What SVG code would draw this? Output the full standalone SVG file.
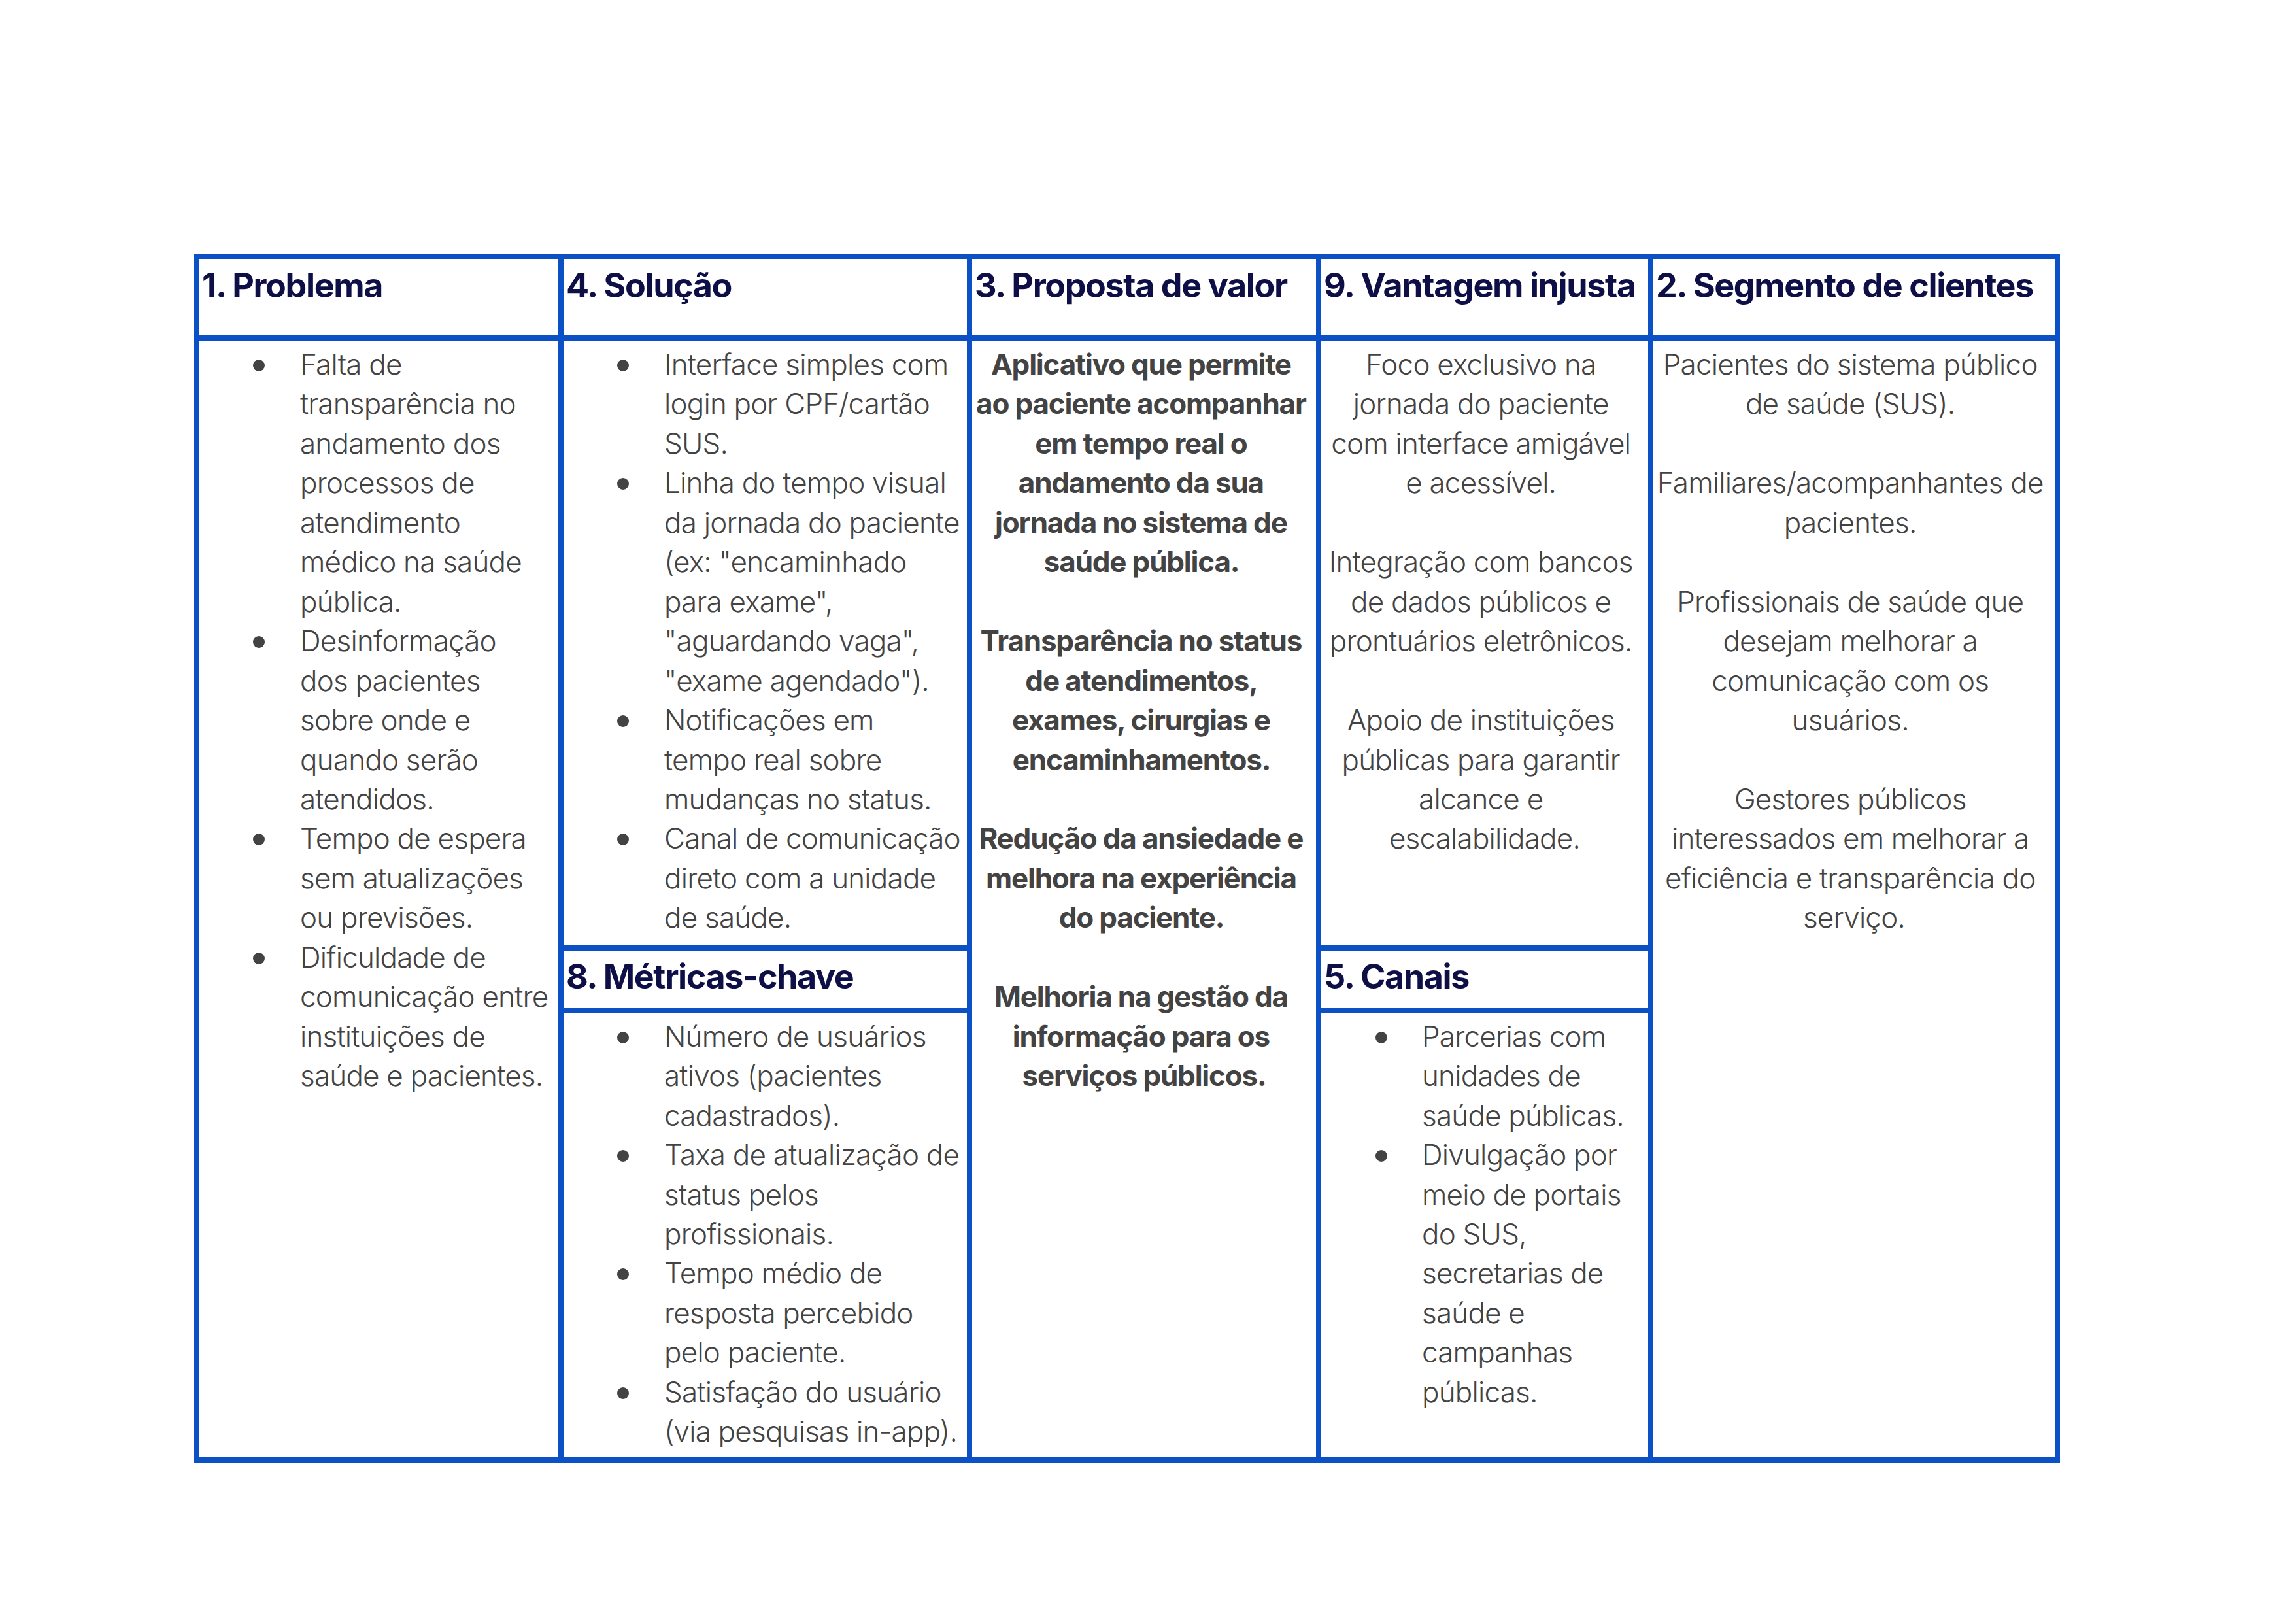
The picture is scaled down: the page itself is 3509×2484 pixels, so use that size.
<svg xmlns="http://www.w3.org/2000/svg" width="3509" height="2484" viewBox="0 0 3509 2484">
<style>
.grid{stroke:#0b51c5;stroke-width:8;fill:none;stroke-linecap:square}
.hd{font-family:Inter,"Liberation Sans",sans-serif;font-weight:700;font-size:52px;fill:#0f0f47;letter-spacing:-1.4px}
.bd{font-family:Inter,"Liberation Sans",sans-serif;font-weight:300;font-size:44px;fill:#434343;letter-spacing:-0.8px}
.bb{font-family:Inter,"Liberation Sans",sans-serif;font-weight:700;font-size:44px;fill:#434343;letter-spacing:-1.2px}
.c{text-anchor:middle}
.bl{fill:#434343}
</style>
<rect width="3509" height="2484" fill="#ffffff"/>
<g id="connectors">
<rect class="grid" x="300" y="392" width="2847" height="1841"/>
<line class="grid" x1="300" y1="517" x2="3147" y2="517"/>
<line class="grid" x1="858" y1="392" x2="858" y2="2233"/>
<line class="grid" x1="1483" y1="392" x2="1483" y2="2233"/>
<line class="grid" x1="2017" y1="392" x2="2017" y2="2233"/>
<line class="grid" x1="2525" y1="392" x2="2525" y2="2233"/>
<line class="grid" x1="858" y1="1450" x2="1483" y2="1450"/>
<line class="grid" x1="858" y1="1546" x2="1483" y2="1546"/>
<line class="grid" x1="2017" y1="1450" x2="2525" y2="1450"/>
<line class="grid" x1="2017" y1="1546" x2="2525" y2="1546"/>
</g>
<g id="problema">
<text class="hd" x="309" y="455">1. Problema</text>
<circle class="bl" cx="396" cy="559" r="9"/>
<circle class="bl" cx="396" cy="982" r="9"/>
<circle class="bl" cx="396" cy="1284" r="9"/>
<circle class="bl" cx="396" cy="1466" r="9"/>
<text class="bd" x="459" y="573">
<tspan x="459" y="573">Falta de</tspan>
<tspan x="459" dy="60.45">transparência no</tspan>
<tspan x="459" dy="60.45">andamento dos</tspan>
<tspan x="459" dy="60.45">processos de</tspan>
<tspan x="459" dy="60.45">atendimento</tspan>
<tspan x="459" dy="60.45">médico na saúde</tspan>
<tspan x="459" dy="60.45">pública.</tspan>
<tspan x="459" dy="60.45">Desinformação</tspan>
<tspan x="459" dy="60.45">dos pacientes</tspan>
<tspan x="459" dy="60.45">sobre onde e</tspan>
<tspan x="459" dy="60.45">quando serão</tspan>
<tspan x="459" dy="60.45">atendidos.</tspan>
<tspan x="459" dy="60.45">Tempo de espera</tspan>
<tspan x="459" dy="60.45">sem atualizações</tspan>
<tspan x="459" dy="60.45">ou previsões.</tspan>
<tspan x="459" dy="60.45">Dificuldade de</tspan>
<tspan x="459" dy="60.45">comunicação entre</tspan>
<tspan x="459" dy="60.45">instituições de</tspan>
<tspan x="459" dy="60.45">saúde e pacientes.</tspan>
</text>
</g>
<g id="solucao">
<text class="hd" x="866" y="455">4. Solução</text>
<circle class="bl" cx="953" cy="559" r="9"/>
<circle class="bl" cx="953" cy="740" r="9"/>
<circle class="bl" cx="953" cy="1103" r="9"/>
<circle class="bl" cx="953" cy="1284" r="9"/>
<text class="bd">
<tspan x="1016" y="573">Interface simples com</tspan>
<tspan x="1016" dy="60.45">login por CPF/cartão</tspan>
<tspan x="1016" dy="60.45">SUS.</tspan>
<tspan x="1016" dy="60.45">Linha do tempo visual</tspan>
<tspan x="1016" dy="60.45">da jornada do paciente</tspan>
<tspan x="1016" dy="60.45">(ex: "encaminhado</tspan>
<tspan x="1016" dy="60.45">para exame",</tspan>
<tspan x="1016" dy="60.45">"aguardando vaga",</tspan>
<tspan x="1016" dy="60.45">"exame agendado").</tspan>
<tspan x="1016" dy="60.45">Notificações em</tspan>
<tspan x="1016" dy="60.45">tempo real sobre</tspan>
<tspan x="1016" dy="60.45">mudanças no status.</tspan>
<tspan x="1016" dy="60.45">Canal de comunicação</tspan>
<tspan x="1016" dy="60.45">direto com a unidade</tspan>
<tspan x="1016" dy="60.45">de saúde.</tspan>
</text>
</g>
<g id="metricas">
<text class="hd" x="866" y="1512">8. Métricas-chave</text>
<circle class="bl" cx="953" cy="1587" r="9"/>
<circle class="bl" cx="953" cy="1768" r="9"/>
<circle class="bl" cx="953" cy="1949" r="9"/>
<circle class="bl" cx="953" cy="2131" r="9"/>
<text class="bd">
<tspan x="1016" y="1600.7">Número de usuários</tspan>
<tspan x="1016" dy="60.45">ativos (pacientes</tspan>
<tspan x="1016" dy="60.45">cadastrados).</tspan>
<tspan x="1016" dy="60.45">Taxa de atualização de</tspan>
<tspan x="1016" dy="60.45">status pelos</tspan>
<tspan x="1016" dy="60.45">profissionais.</tspan>
<tspan x="1016" dy="60.45">Tempo médio de</tspan>
<tspan x="1016" dy="60.45">resposta percebido</tspan>
<tspan x="1016" dy="60.45">pelo paciente.</tspan>
<tspan x="1016" dy="60.45">Satisfação do usuário</tspan>
<tspan x="1016" dy="60.45">(via pesquisas in-app).</tspan>
</text>
</g>
<g id="proposta">
<text class="hd" x="1491" y="455">3. Proposta de valor</text>
<text class="bb c">
<tspan x="1750" y="573">Aplicativo que permite</tspan>
<tspan x="1750" dy="60.45">ao paciente acompanhar</tspan>
<tspan x="1750" dy="60.45">em tempo real o</tspan>
<tspan x="1750" dy="60.45">andamento da sua</tspan>
<tspan x="1750" dy="60.45">jornada no sistema de</tspan>
<tspan x="1750" dy="60.45">saúde pública.</tspan>
<tspan x="1750" dy="120.9">Transparência no status</tspan>
<tspan x="1750" dy="60.45">de atendimentos,</tspan>
<tspan x="1750" dy="60.45">exames, cirurgias e</tspan>
<tspan x="1750" dy="60.45">encaminhamentos.</tspan>
<tspan x="1750" dy="120.9">Redução da ansiedade e</tspan>
<tspan x="1750" dy="60.45">melhora na experiência</tspan>
<tspan x="1750" dy="60.45">do paciente.</tspan>
<tspan x="1750" dy="120.9">Melhoria na gestão da</tspan>
<tspan x="1750" dy="60.45">informação para os</tspan>
<tspan x="1750" dy="60.45">serviços públicos.</tspan>
</text>
</g>
<g id="vantagem">
<text class="hd" x="2025" y="455">9. Vantagem injusta</text>
<text class="bd c">
<tspan x="2271" y="573">Foco exclusivo na</tspan>
<tspan x="2271" dy="60.45">jornada do paciente</tspan>
<tspan x="2271" dy="60.45">com interface amigável</tspan>
<tspan x="2271" dy="60.45">e acessível.</tspan>
<tspan x="2271" dy="120.9">Integração com bancos</tspan>
<tspan x="2271" dy="60.45">de dados públicos e</tspan>
<tspan x="2271" dy="60.45">prontuários eletrônicos.</tspan>
<tspan x="2271" dy="120.9">Apoio de instituições</tspan>
<tspan x="2271" dy="60.45">públicas para garantir</tspan>
<tspan x="2271" dy="60.45">alcance e</tspan>
<tspan x="2271" dy="60.45">escalabilidade.</tspan>
</text>
</g>
<g id="canais">
<text class="hd" x="2025" y="1512">5. Canais</text>
<circle class="bl" cx="2113" cy="1587" r="9"/>
<circle class="bl" cx="2113" cy="1768" r="9"/>
<text class="bd">
<tspan x="2175" y="1600.7">Parcerias com</tspan>
<tspan x="2175" dy="60.45">unidades de</tspan>
<tspan x="2175" dy="60.45">saúde públicas.</tspan>
<tspan x="2175" dy="60.45">Divulgação por</tspan>
<tspan x="2175" dy="60.45">meio de portais</tspan>
<tspan x="2175" dy="60.45">do SUS,</tspan>
<tspan x="2175" dy="60.45">secretarias de</tspan>
<tspan x="2175" dy="60.45">saúde e</tspan>
<tspan x="2175" dy="60.45">campanhas</tspan>
<tspan x="2175" dy="60.45">públicas.</tspan>
</text>
</g>
<g id="segmento">
<text class="hd" x="2533" y="455">2. Segmento de clientes</text>
<text class="bd c">
<tspan x="2836" y="573">Pacientes do sistema público</tspan>
<tspan x="2836" dy="60.45">de saúde (SUS).</tspan>
<tspan x="2836" dy="120.9">Familiares/acompanhantes de</tspan>
<tspan x="2836" dy="60.45">pacientes.</tspan>
<tspan x="2836" dy="120.9">Profissionais de saúde que</tspan>
<tspan x="2836" dy="60.45">desejam melhorar a</tspan>
<tspan x="2836" dy="60.45">comunicação com os</tspan>
<tspan x="2836" dy="60.45">usuários.</tspan>
<tspan x="2836" dy="120.9">Gestores públicos</tspan>
<tspan x="2836" dy="60.45">interessados em melhorar a</tspan>
<tspan x="2836" dy="60.45">eficiência e transparência do</tspan>
<tspan x="2836" dy="60.45">serviço.</tspan>
</text>
</g>
</svg>
